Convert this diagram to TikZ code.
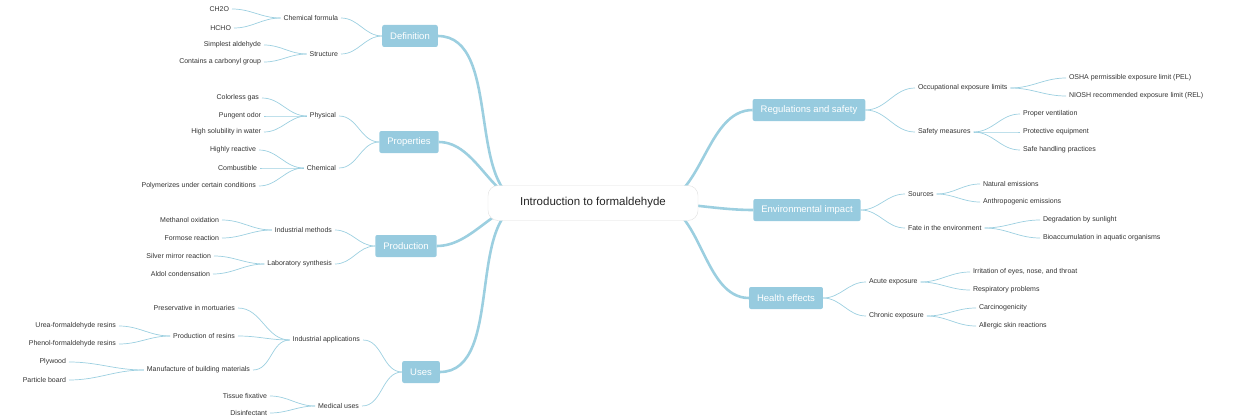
\documentclass[tikz,border=0pt]{standalone}
\usepackage{fontspec}
\setmainfont{Liberation Sans}
\begin{document}
\begin{tikzpicture}[x=1pt,y=-1pt,
  every node/.style={inner xsep=3pt,inner ysep=1pt,outer sep=0pt},
  lab/.style={font=\fontsize{7}{8}\selectfont,text=black!80},
  br/.style={fill=brc,text=white,font=\fontsize{9.5}{11}\selectfont,minimum height=22pt,inner xsep=8pt,rounded corners=2pt},
  thick link/.style={draw=lnc,line width=2.6pt},
  thin link/.style={draw=lnc,line width=0.7pt}]
\definecolor{brc}{HTML}{97CBDF}
\definecolor{lnc}{HTML}{9CCFE0}
\useasboundingbox (0,0) rectangle (1240,420);
\newcommand{\Lf}[4]{\node[lab,anchor=east] (#1) at (#2+3,#3) {#4};}
\newcommand{\Rt}[4]{\node[lab,anchor=west] (#1) at (#2-3,#3) {#4};}
\newcommand{\lk}[2]{\draw[thin link] (#1.west) to[out=180,in=0] (#2.east);}
\newcommand{\rk}[2]{\draw[thin link] (#1.east) to[out=0,in=180] (#2.west);}
% branches
\node[br] (def) at (410,36) {Definition};
\node[br] (pro) at (409,142) {Properties};
\node[br] (prd) at (406,246) {Production};
\node[br] (use) at (421,372) {Uses};
\node[br] (reg) at (809,110) {Regulations and safety};
\node[br] (env) at (807,210) {Environmental impact};
\node[br] (hea) at (786,298) {Health effects};
% thick links
\coordinate (cl) at (530,203);
\coordinate (cr) at (655,203);
\foreach \b in {def,pro,prd,use}{\draw[thick link] (cl) to[out=180,in=0,looseness=0.9] (\b.east);}
\foreach \b in {reg,env,hea}{\draw[thick link] (cr) to[out=0,in=180,looseness=0.9] (\b.west);}
\node[draw=black!12,fill=white,rounded corners=10pt,minimum width=210pt,minimum height=35pt,font=\fontsize{11.5}{13}\selectfont,text=black!85] (c) at (593,203) {Introduction to formaldehyde};
% left labels
\Lf{cf}{338}{18}{Chemical formula}
\Lf{ch}{229}{9}{CH2O}
\Lf{hc}{231}{28}{HCHO}
\Lf{st}{338}{54}{Structure}
\Lf{sa}{261}{45}{Simplest aldehyde}
\Lf{cc}{261}{62}{Contains a carbonyl group}
\Lf{ph}{336}{116}{Physical}
\Lf{cg}{259}{98}{Colorless gas}
\Lf{po}{261}{116}{Pungent odor}
\Lf{hs}{261}{132}{High solubility in water}
\Lf{chm}{336}{168}{Chemical}
\Lf{hr}{256}{150}{Highly reactive}
\Lf{cb}{257}{168}{Combustible}
\Lf{pu}{256}{186}{Polymerizes under certain conditions}
\Lf{im}{332}{230}{Industrial methods}
\Lf{mo}{219}{220}{Methanol oxidation}
\Lf{fr}{219}{238}{Formose reaction}
\Lf{ls}{332}{264}{Laboratory synthesis}
\Lf{sm}{211}{256}{Silver mirror reaction}
\Lf{ac}{210}{274}{Aldol condensation}
\Lf{ia}{360}{340}{Industrial applications}
\Lf{pm}{235}{308}{Preservative in mortuaries}
\Lf{pr}{235}{336}{Production of resins}
\Lf{uf}{116}{326}{Urea-formaldehyde resins}
\Lf{pf}{116}{344}{Phenol-formaldehyde resins}
\Lf{mb}{250}{370}{Manufacture of building materials}
\Lf{pw}{66}{362}{Plywood}
\Lf{pb}{66}{380}{Particle board}
\Lf{mu}{359}{406}{Medical uses}
\Lf{tf}{267}{396}{Tissue fixative}
\Lf{di}{267}{413}{Disinfectant}
\lk{def}{cf}\lk{def}{st}\lk{cf}{ch}\lk{cf}{hc}\lk{st}{sa}\lk{st}{cc}
\lk{pro}{ph}\lk{pro}{chm}\lk{ph}{cg}\lk{ph}{po}\lk{ph}{hs}\lk{chm}{hr}\lk{chm}{cb}\lk{chm}{pu}
\lk{prd}{im}\lk{prd}{ls}\lk{im}{mo}\lk{im}{fr}\lk{ls}{sm}\lk{ls}{ac}
\lk{use}{ia}\lk{use}{mu}\lk{ia}{pm}\lk{ia}{pr}\lk{ia}{mb}\lk{pr}{uf}\lk{pr}{pf}\lk{mb}{pw}\lk{mb}{pb}\lk{mu}{tf}\lk{mu}{di}
% right labels
\Rt{oe}{918}{88}{Occupational exposure limits}
\Rt{os}{1069}{78}{OSHA permissible exposure limit (PEL)}
\Rt{ni}{1069}{96}{NIOSH recommended exposure limit (REL)}
\Rt{sf}{918}{132}{Safety measures}
\Rt{pv}{1023}{114}{Proper ventilation}
\Rt{pe}{1023}{132}{Protective equipment}
\Rt{sh}{1023}{150}{Safe handling practices}
\Rt{so}{908}{194}{Sources}
\Rt{ne}{983}{184}{Natural emissions}
\Rt{ae}{983}{202}{Anthropogenic emissions}
\Rt{fe}{908}{228}{Fate in the environment}
\Rt{ds}{1043}{220}{Degradation by sunlight}
\Rt{ba}{1043}{238}{Bioaccumulation in aquatic organisms}
\Rt{ax}{869}{282}{Acute exposure}
\Rt{ir}{973}{272}{Irritation of eyes, nose, and throat}
\Rt{rp}{973}{290}{Respiratory problems}
\Rt{cx}{869}{316}{Chronic exposure}
\Rt{ca}{979}{308}{Carcinogenicity}
\Rt{as}{979}{326}{Allergic skin reactions}
\rk{reg}{oe}\rk{reg}{sf}\rk{oe}{os}\rk{oe}{ni}\rk{sf}{pv}\rk{sf}{pe}\rk{sf}{sh}
\rk{env}{so}\rk{env}{fe}\rk{so}{ne}\rk{so}{ae}\rk{fe}{ds}\rk{fe}{ba}
\rk{hea}{ax}\rk{hea}{cx}\rk{ax}{ir}\rk{ax}{rp}\rk{cx}{ca}\rk{cx}{as}
\end{tikzpicture}
\end{document}
